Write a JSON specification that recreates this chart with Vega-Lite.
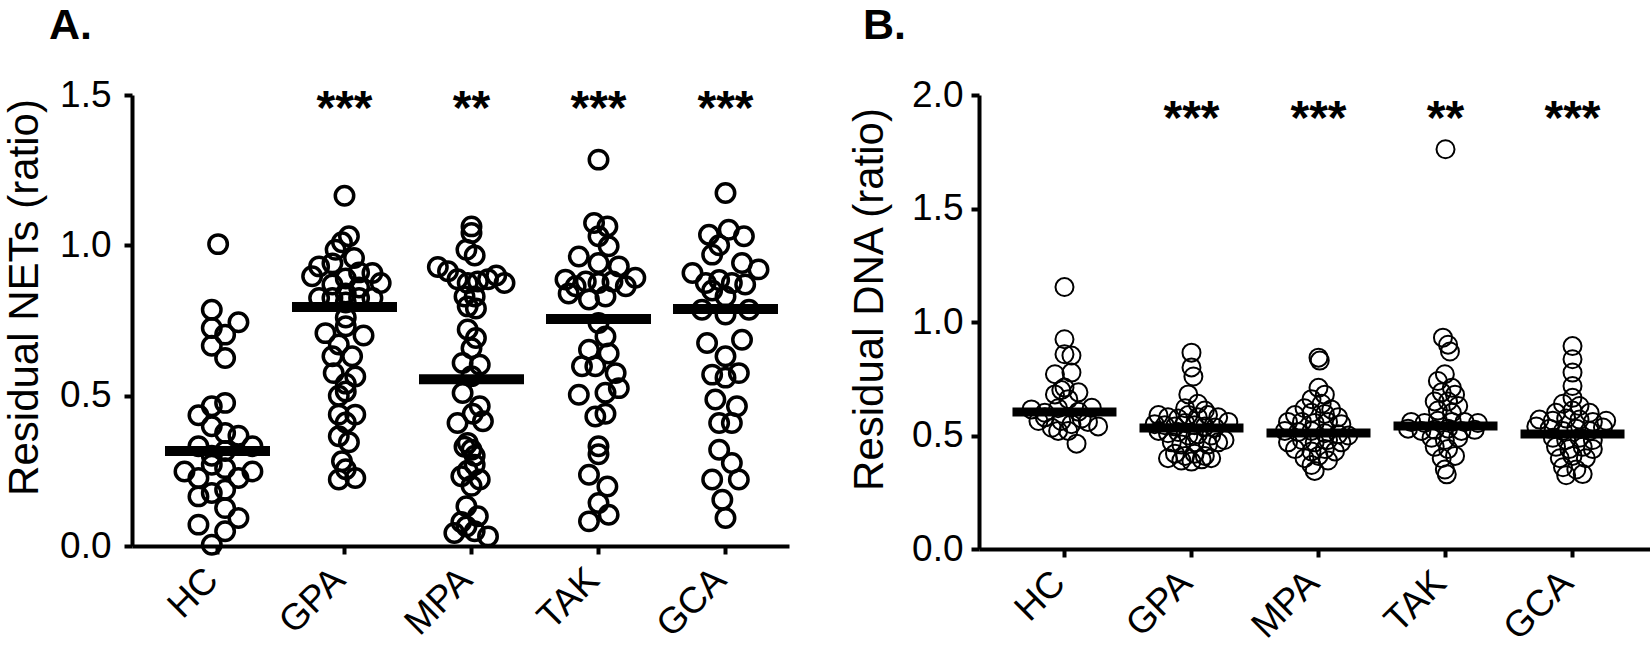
{
  "$schema": "https://vega.github.io/schema/vega-lite/v6.json",
  "background": "white",
  "padding": {"left": 2, "top": 5, "right": 0, "bottom": 0},
  "config": {
    "font": "Liberation Sans",
    "view": {"stroke": null},
    "axis": {
      "domainColor": "black", "domainWidth": 4, "tickColor": "black", "tickWidth": 4, "tickSize": 8,
      "labelFont": "Liberation Sans", "labelFontSize": 37, "labelColor": "black",
      "titleFont": "Liberation Sans", "titleFontSize": 42, "titleFontWeight": "normal", "titleColor": "black",
      "grid": false
    }
  },
  "spacing": 58,
  "datasets": {
    "nets": [
      {"g":"HC","v":1.004,"j":0.01},{"g":"HC","v":0.786,"j":-0.09},{"g":"HC","v":0.744,"j":0.33},{"g":"HC","v":0.725,"j":-0.09},{"g":"HC","v":0.703,"j":0.12},{"g":"HC","v":0.666,"j":-0.09},{"g":"HC","v":0.625,"j":0.12},{"g":"HC","v":0.476,"j":0.12},{"g":"HC","v":0.465,"j":-0.09},{"g":"HC","v":0.435,"j":-0.30},{"g":"HC","v":0.398,"j":-0.09},{"g":"HC","v":0.376,"j":0.12},{"g":"HC","v":0.367,"j":0.33},{"g":"HC","v":0.332,"j":-0.30},{"g":"HC","v":0.332,"j":0.55},{"g":"HC","v":0.300,"j":-0.09},{"g":"HC","v":0.316,"j":0.12},{"g":"HC","v":0.270,"j":-0.09},{"g":"HC","v":0.259,"j":0.12},{"g":"HC","v":0.248,"j":-0.52},{"g":"HC","v":0.248,"j":0.55},{"g":"HC","v":0.226,"j":-0.30},{"g":"HC","v":0.226,"j":0.33},{"g":"HC","v":0.187,"j":0.12},{"g":"HC","v":0.176,"j":-0.09},{"g":"HC","v":0.165,"j":-0.30},{"g":"HC","v":0.126,"j":0.12},{"g":"HC","v":0.093,"j":0.33},{"g":"HC","v":0.071,"j":-0.30},{"g":"HC","v":0.049,"j":0.12},{"g":"HC","v":0.004,"j":-0.09},
      {"g":"GPA","v":1.165,"j":0},{"g":"GPA","v":1.030,"j":0.07},{"g":"GPA","v":1.010,"j":-0.04},{"g":"GPA","v":0.985,"j":-0.14},{"g":"GPA","v":0.958,"j":0.15},{"g":"GPA","v":0.930,"j":-0.40},{"g":"GPA","v":0.940,"j":-0.19},{"g":"GPA","v":0.897,"j":-0.51},{"g":"GPA","v":0.908,"j":0.44},{"g":"GPA","v":0.910,"j":0.23},{"g":"GPA","v":0.875,"j":0.57},{"g":"GPA","v":0.890,"j":0.02},{"g":"GPA","v":0.870,"j":-0.19},{"g":"GPA","v":0.860,"j":0.23},{"g":"GPA","v":0.825,"j":-0.40},{"g":"GPA","v":0.825,"j":-0.19},{"g":"GPA","v":0.840,"j":0.02},{"g":"GPA","v":0.825,"j":0.23},{"g":"GPA","v":0.825,"j":0.44},{"g":"GPA","v":0.810,"j":0.02},{"g":"GPA","v":0.760,"j":0.02},{"g":"GPA","v":0.708,"j":-0.30},{"g":"GPA","v":0.731,"j":0.02},{"g":"GPA","v":0.700,"j":0.30},{"g":"GPA","v":0.670,"j":-0.09},{"g":"GPA","v":0.631,"j":0.12},{"g":"GPA","v":0.631,"j":-0.19},{"g":"GPA","v":0.575,"j":-0.17},{"g":"GPA","v":0.564,"j":0.17},{"g":"GPA","v":0.540,"j":0.02},{"g":"GPA","v":0.514,"j":0.02},{"g":"GPA","v":0.500,"j":-0.09},{"g":"GPA","v":0.437,"j":-0.09},{"g":"GPA","v":0.437,"j":0.17},{"g":"GPA","v":0.411,"j":0.02},{"g":"GPA","v":0.365,"j":-0.09},{"g":"GPA","v":0.345,"j":0.07},{"g":"GPA","v":0.282,"j":-0.04},{"g":"GPA","v":0.255,"j":0.02},{"g":"GPA","v":0.221,"j":-0.09},{"g":"GPA","v":0.226,"j":0.17},
      {"g":"MPA","v":1.063,"j":0},{"g":"MPA","v":1.041,"j":0},{"g":"MPA","v":0.966,"j":0.05},{"g":"MPA","v":0.985,"j":-0.08},{"g":"MPA","v":0.928,"j":-0.53},{"g":"MPA","v":0.914,"j":-0.37},{"g":"MPA","v":0.887,"j":-0.22},{"g":"MPA","v":0.875,"j":-0.06},{"g":"MPA","v":0.880,"j":0.10},{"g":"MPA","v":0.887,"j":0.26},{"g":"MPA","v":0.900,"j":0.39},{"g":"MPA","v":0.875,"j":0.52},{"g":"MPA","v":0.830,"j":-0.11},{"g":"MPA","v":0.830,"j":0.05},{"g":"MPA","v":0.797,"j":-0.06},{"g":"MPA","v":0.790,"j":0.07},{"g":"MPA","v":0.720,"j":-0.06},{"g":"MPA","v":0.692,"j":0.07},{"g":"MPA","v":0.658,"j":0},{"g":"MPA","v":0.609,"j":-0.14},{"g":"MPA","v":0.603,"j":0.13},{"g":"MPA","v":0.565,"j":0},{"g":"MPA","v":0.509,"j":-0.14},{"g":"MPA","v":0.465,"j":0.13},{"g":"MPA","v":0.440,"j":0.02},{"g":"MPA","v":0.409,"j":-0.22},{"g":"MPA","v":0.415,"j":0.18},{"g":"MPA","v":0.343,"j":-0.06},{"g":"MPA","v":0.330,"j":-0.11},{"g":"MPA","v":0.320,"j":0},{"g":"MPA","v":0.300,"j":0.05},{"g":"MPA","v":0.270,"j":0.05},{"g":"MPA","v":0.250,"j":-0.06},{"g":"MPA","v":0.232,"j":-0.16},{"g":"MPA","v":0.221,"j":0.13},{"g":"MPA","v":0.200,"j":0},{"g":"MPA","v":0.132,"j":-0.08},{"g":"MPA","v":0.099,"j":0.10},{"g":"MPA","v":0.080,"j":-0.16},{"g":"MPA","v":0.043,"j":-0.27},{"g":"MPA","v":0.049,"j":0.05},{"g":"MPA","v":0.032,"j":0.26},{"g":"MPA","v":0.065,"j":-0.08},
      {"g":"TAK","v":1.285,"j":0},{"g":"TAK","v":1.074,"j":-0.07},{"g":"TAK","v":1.063,"j":0.14},{"g":"TAK","v":1.030,"j":0},{"g":"TAK","v":0.997,"j":0.16},{"g":"TAK","v":0.963,"j":-0.31},{"g":"TAK","v":0.941,"j":0},{"g":"TAK","v":0.930,"j":0.32},{"g":"TAK","v":0.886,"j":-0.52},{"g":"TAK","v":0.892,"j":0.58},{"g":"TAK","v":0.864,"j":-0.36},{"g":"TAK","v":0.880,"j":-0.20},{"g":"TAK","v":0.875,"j":0},{"g":"TAK","v":0.880,"j":0.22},{"g":"TAK","v":0.864,"j":0.43},{"g":"TAK","v":0.830,"j":0.11},{"g":"TAK","v":0.840,"j":-0.47},{"g":"TAK","v":0.820,"j":-0.15},{"g":"TAK","v":0.742,"j":0},{"g":"TAK","v":0.697,"j":0.11},{"g":"TAK","v":0.653,"j":-0.15},{"g":"TAK","v":0.640,"j":0.16},{"g":"TAK","v":0.598,"j":-0.26},{"g":"TAK","v":0.598,"j":-0.05},{"g":"TAK","v":0.575,"j":0.27},{"g":"TAK","v":0.503,"j":-0.31},{"g":"TAK","v":0.510,"j":0.11},{"g":"TAK","v":0.525,"j":0.32},{"g":"TAK","v":0.431,"j":-0.05},{"g":"TAK","v":0.440,"j":0.11},{"g":"TAK","v":0.332,"j":0},{"g":"TAK","v":0.305,"j":0},{"g":"TAK","v":0.237,"j":-0.15},{"g":"TAK","v":0.198,"j":0.14},{"g":"TAK","v":0.143,"j":0},{"g":"TAK","v":0.082,"j":-0.15},{"g":"TAK","v":0.104,"j":0.16},
      {"g":"GCA","v":1.174,"j":0},{"g":"GCA","v":1.052,"j":0.05},{"g":"GCA","v":1.035,"j":-0.26},{"g":"GCA","v":1.030,"j":0.29},{"g":"GCA","v":1.000,"j":-0.10},{"g":"GCA","v":0.969,"j":-0.21},{"g":"GCA","v":0.941,"j":0.26},{"g":"GCA","v":0.908,"j":-0.52},{"g":"GCA","v":0.920,"j":0.52},{"g":"GCA","v":0.875,"j":-0.31},{"g":"GCA","v":0.885,"j":-0.10},{"g":"GCA","v":0.875,"j":0.10},{"g":"GCA","v":0.870,"j":0.31},{"g":"GCA","v":0.830,"j":0},{"g":"GCA","v":0.850,"j":-0.21},{"g":"GCA","v":0.786,"j":-0.37},{"g":"GCA","v":0.770,"j":0},{"g":"GCA","v":0.786,"j":0.37},{"g":"GCA","v":0.675,"j":-0.29},{"g":"GCA","v":0.686,"j":0.26},{"g":"GCA","v":0.631,"j":0},{"g":"GCA","v":0.570,"j":-0.21},{"g":"GCA","v":0.575,"j":0.21},{"g":"GCA","v":0.560,"j":0},{"g":"GCA","v":0.487,"j":-0.16},{"g":"GCA","v":0.465,"j":0.18},{"g":"GCA","v":0.409,"j":-0.10},{"g":"GCA","v":0.409,"j":0.10},{"g":"GCA","v":0.320,"j":-0.10},{"g":"GCA","v":0.276,"j":0.10},{"g":"GCA","v":0.221,"j":-0.21},{"g":"GCA","v":0.221,"j":0.21},{"g":"GCA","v":0.154,"j":-0.05},{"g":"GCA","v":0.093,"j":0}
    ],
    "netsMed": [{"g":"HC","v":0.316},{"g":"GPA","v":0.795},{"g":"MPA","v":0.555},{"g":"TAK","v":0.755},{"g":"GCA","v":0.788}],
    "netsStars": [{"g":"GPA","s":"***"},{"g":"MPA","s":"**"},{"g":"TAK","s":"***"},{"g":"GCA","s":"***"}],
    "dna": [
      {"g":"HC","v":1.154,"j":0},{"g":"HC","v":0.924,"j":0},{"g":"HC","v":0.858,"j":0},{"g":"HC","v":0.852,"j":0.11},{"g":"HC","v":0.770,"j":-0.15},{"g":"HC","v":0.777,"j":0.11},{"g":"HC","v":0.681,"j":-0.15},{"g":"HC","v":0.711,"j":0},{"g":"HC","v":0.690,"j":0.22},{"g":"HC","v":0.700,"j":-0.05},{"g":"HC","v":0.660,"j":0.06},{"g":"HC","v":0.615,"j":-0.52},{"g":"HC","v":0.622,"j":0.43},{"g":"HC","v":0.600,"j":-0.31},{"g":"HC","v":0.620,"j":-0.10},{"g":"HC","v":0.605,"j":0.22},{"g":"HC","v":0.564,"j":-0.41},{"g":"HC","v":0.534,"j":-0.20},{"g":"HC","v":0.564,"j":-0.05},{"g":"HC","v":0.550,"j":0.11},{"g":"HC","v":0.575,"j":0.27},{"g":"HC","v":0.540,"j":0.53},{"g":"HC","v":0.580,"j":-0.31},{"g":"HC","v":0.464,"j":0.19},{"g":"HC","v":0.520,"j":-0.10},{"g":"HC","v":0.520,"j":0.06},{"g":"HC","v":0.560,"j":0.37},
      {"g":"GPA","v":0.865,"j":0},{"g":"GPA","v":0.800,"j":0},{"g":"GPA","v":0.760,"j":0.03},{"g":"GPA","v":0.681,"j":-0.05},{"g":"GPA","v":0.640,"j":0.10},{"g":"GPA","v":0.620,"j":-0.10},{"g":"GPA","v":0.610,"j":0.21},{"g":"GPA","v":0.590,"j":-0.52},{"g":"GPA","v":0.580,"j":-0.37},{"g":"GPA","v":0.575,"j":-0.21},{"g":"GPA","v":0.590,"j":-0.05},{"g":"GPA","v":0.580,"j":0.10},{"g":"GPA","v":0.590,"j":0.26},{"g":"GPA","v":0.580,"j":0.42},{"g":"GPA","v":0.560,"j":0.58},{"g":"GPA","v":0.550,"j":-0.58},{"g":"GPA","v":0.545,"j":-0.42},{"g":"GPA","v":0.540,"j":-0.26},{"g":"GPA","v":0.555,"j":-0.10},{"g":"GPA","v":0.545,"j":0.05},{"g":"GPA","v":0.540,"j":0.21},{"g":"GPA","v":0.535,"j":0.37},{"g":"GPA","v":0.520,"j":-0.52},{"g":"GPA","v":0.510,"j":-0.37},{"g":"GPA","v":0.515,"j":-0.21},{"g":"GPA","v":0.500,"j":-0.05},{"g":"GPA","v":0.505,"j":0.10},{"g":"GPA","v":0.500,"j":0.31},{"g":"GPA","v":0.480,"j":0.52},{"g":"GPA","v":0.470,"j":-0.31},{"g":"GPA","v":0.460,"j":-0.16},{"g":"GPA","v":0.470,"j":0.05},{"g":"GPA","v":0.460,"j":0.26},{"g":"GPA","v":0.470,"j":0.42},{"g":"GPA","v":0.420,"j":-0.26},{"g":"GPA","v":0.410,"j":-0.10},{"g":"GPA","v":0.420,"j":0.05},{"g":"GPA","v":0.410,"j":0.21},{"g":"GPA","v":0.400,"j":-0.37},{"g":"GPA","v":0.390,"j":-0.16},{"g":"GPA","v":0.385,"j":0},{"g":"GPA","v":0.395,"j":0.16},{"g":"GPA","v":0.400,"j":0.31},
      {"g":"MPA","v":0.843,"j":0},{"g":"MPA","v":0.830,"j":0.02},{"g":"MPA","v":0.710,"j":0},{"g":"MPA","v":0.680,"j":0.10},{"g":"MPA","v":0.660,"j":-0.11},{"g":"MPA","v":0.640,"j":0.05},{"g":"MPA","v":0.620,"j":-0.22},{"g":"MPA","v":0.615,"j":0.20},{"g":"MPA","v":0.590,"j":-0.37},{"g":"MPA","v":0.600,"j":-0.11},{"g":"MPA","v":0.595,"j":0.10},{"g":"MPA","v":0.580,"j":0.31},{"g":"MPA","v":0.560,"j":-0.48},{"g":"MPA","v":0.560,"j":-0.26},{"g":"MPA","v":0.555,"j":-0.06},{"g":"MPA","v":0.560,"j":0.15},{"g":"MPA","v":0.550,"j":0.36},{"g":"MPA","v":0.520,"j":-0.53},{"g":"MPA","v":0.515,"j":-0.32},{"g":"MPA","v":0.520,"j":-0.11},{"g":"MPA","v":0.510,"j":0.10},{"g":"MPA","v":0.505,"j":0.31},{"g":"MPA","v":0.500,"j":0.47},{"g":"MPA","v":0.470,"j":-0.48},{"g":"MPA","v":0.480,"j":-0.26},{"g":"MPA","v":0.470,"j":-0.06},{"g":"MPA","v":0.480,"j":0.15},{"g":"MPA","v":0.470,"j":0.36},{"g":"MPA","v":0.440,"j":-0.37},{"g":"MPA","v":0.430,"j":-0.11},{"g":"MPA","v":0.440,"j":0.10},{"g":"MPA","v":0.430,"j":0.26},{"g":"MPA","v":0.400,"j":-0.22},{"g":"MPA","v":0.410,"j":0},{"g":"MPA","v":0.390,"j":0.15},{"g":"MPA","v":0.370,"j":-0.11},{"g":"MPA","v":0.344,"j":-0.06},
      {"g":"TAK","v":1.761,"j":0},{"g":"TAK","v":0.931,"j":-0.04},{"g":"TAK","v":0.900,"j":0.04},{"g":"TAK","v":0.870,"j":0.07},{"g":"TAK","v":0.770,"j":-0.01},{"g":"TAK","v":0.740,"j":-0.12},{"g":"TAK","v":0.710,"j":0.10},{"g":"TAK","v":0.690,"j":-0.06},{"g":"TAK","v":0.680,"j":0.15},{"g":"TAK","v":0.650,"j":-0.17},{"g":"TAK","v":0.650,"j":0.04},{"g":"TAK","v":0.630,"j":0.20},{"g":"TAK","v":0.610,"j":-0.12},{"g":"TAK","v":0.600,"j":0.10},{"g":"TAK","v":0.560,"j":-0.54},{"g":"TAK","v":0.555,"j":-0.33},{"g":"TAK","v":0.565,"j":-0.12},{"g":"TAK","v":0.560,"j":0.10},{"g":"TAK","v":0.560,"j":0.30},{"g":"TAK","v":0.555,"j":0.51},{"g":"TAK","v":0.530,"j":-0.59},{"g":"TAK","v":0.520,"j":-0.38},{"g":"TAK","v":0.525,"j":-0.17},{"g":"TAK","v":0.530,"j":0.04},{"g":"TAK","v":0.520,"j":0.25},{"g":"TAK","v":0.525,"j":0.46},{"g":"TAK","v":0.490,"j":-0.22},{"g":"TAK","v":0.480,"j":-0.01},{"g":"TAK","v":0.490,"j":0.20},{"g":"TAK","v":0.450,"j":-0.17},{"g":"TAK","v":0.440,"j":0.04},{"g":"TAK","v":0.410,"j":0.15},{"g":"TAK","v":0.400,"j":-0.06},{"g":"TAK","v":0.350,"j":-0.01},{"g":"TAK","v":0.329,"j":0.02},
      {"g":"GCA","v":0.894,"j":0},{"g":"GCA","v":0.836,"j":0},{"g":"GCA","v":0.777,"j":0},{"g":"GCA","v":0.718,"j":0},{"g":"GCA","v":0.666,"j":0},{"g":"GCA","v":0.640,"j":-0.15},{"g":"GCA","v":0.630,"j":0.11},{"g":"GCA","v":0.600,"j":-0.26},{"g":"GCA","v":0.610,"j":0},{"g":"GCA","v":0.600,"j":0.27},{"g":"GCA","v":0.570,"j":-0.52},{"g":"GCA","v":0.565,"j":-0.31},{"g":"GCA","v":0.575,"j":-0.10},{"g":"GCA","v":0.570,"j":0.11},{"g":"GCA","v":0.560,"j":0.32},{"g":"GCA","v":0.565,"j":0.53},{"g":"GCA","v":0.540,"j":-0.57},{"g":"GCA","v":0.530,"j":-0.36},{"g":"GCA","v":0.520,"j":-0.15},{"g":"GCA","v":0.530,"j":0.06},{"g":"GCA","v":0.520,"j":0.27},{"g":"GCA","v":0.535,"j":0.48},{"g":"GCA","v":0.490,"j":-0.31},{"g":"GCA","v":0.480,"j":-0.10},{"g":"GCA","v":0.490,"j":0.11},{"g":"GCA","v":0.480,"j":0.32},{"g":"GCA","v":0.450,"j":-0.26},{"g":"GCA","v":0.440,"j":-0.05},{"g":"GCA","v":0.450,"j":0.16},{"g":"GCA","v":0.440,"j":0.32},{"g":"GCA","v":0.400,"j":-0.20},{"g":"GCA","v":0.410,"j":0},{"g":"GCA","v":0.400,"j":0.21},{"g":"GCA","v":0.360,"j":-0.15},{"g":"GCA","v":0.350,"j":0.06},{"g":"GCA","v":0.330,"j":0.16},{"g":"GCA","v":0.325,"j":-0.10}
    ],
    "dnaMed": [{"g":"HC","v":0.604},{"g":"GPA","v":0.533},{"g":"MPA","v":0.511},{"g":"TAK","v":0.542},{"g":"GCA","v":0.507}],
    "dnaStars": [{"g":"GPA","s":"***"},{"g":"MPA","s":"***"},{"g":"TAK","s":"**"},{"g":"GCA","s":"***"}]
  },
  "hconcat": [
    {
      "width": 657, "height": 451,
      "title": {"text": "A.", "anchor": "start", "frame": "bounds", "dx": 46, "offset": 28, "font": "Liberation Sans", "fontSize": 43, "fontWeight": "bold", "color": "black"},
      "encoding": {
        "x": {"field": "g", "type": "nominal", "sort": ["HC","GPA","MPA","TAK","GCA"],
              "scale": {"paddingInner": 0, "paddingOuter": 0.0866, "align": 1},
              "axis": {"title": null, "labelAngle": -45, "labelAlign": "right", "labelBaseline": "middle", "labelPadding": 20, "labelOffset": -5}}
      },
      "layer": [
        {
          "data": {"name": "nets"},
          "mark": {"type": "point", "shape": "circle", "filled": false, "stroke": "black", "strokeWidth": 3.5, "size": 340, "opacity": 1},
          "encoding": {
            "xOffset": {"field": "j", "type": "quantitative", "scale": {"domain": [-1, 1]}},
            "y": {"field": "v", "type": "quantitative", "scale": {"domain": [0, 1.5], "nice": false},
                  "axis": {"title": "Residual NETs (ratio)", "values": [0, 0.5, 1, 1.5], "format": ".1f", "labelPadding": 13,
                           "titleX": -95, "titleY": 202, "titleBaseline": "alphabetic", "titleAlign": "center"}}
          }
        },
        {
          "data": {"name": "netsMed"},
          "mark": {"type": "tick", "color": "black", "thickness": 10, "size": 105, "opacity": 1},
          "encoding": {"y": {"field": "v", "type": "quantitative"}}
        },
        {
          "data": {"name": "netsStars"},
          "mark": {"type": "text", "fontSize": 48, "fontWeight": "bold", "align": "center", "baseline": "alphabetic", "color": "black"},
          "encoding": {"y": {"datum": 1.405, "type": "quantitative"}, "text": {"field": "s"}}
        }
      ]
    },
    {
      "width": 679, "height": 454,
      "title": {"text": "B.", "anchor": "start", "frame": "bounds", "dx": 15, "offset": 28, "font": "Liberation Sans", "fontSize": 43, "fontWeight": "bold", "color": "black"},
      "encoding": {
        "x": {"field": "g", "type": "nominal", "sort": ["HC","GPA","MPA","TAK","GCA"],
              "scale": {"paddingInner": 0, "paddingOuter": 0.173, "align": 0.5},
              "axis": {"title": null, "labelAngle": -45, "labelAlign": "right", "labelBaseline": "middle", "labelPadding": 20, "labelOffset": -5}}
      },
      "layer": [
        {
          "data": {"name": "dna"},
          "mark": {"type": "point", "shape": "circle", "filled": false, "stroke": "black", "strokeWidth": 2, "size": 324, "opacity": 1},
          "encoding": {
            "xOffset": {"field": "j", "type": "quantitative", "scale": {"domain": [-1, 1]}},
            "y": {"field": "v", "type": "quantitative", "scale": {"domain": [0, 2], "nice": false},
                  "axis": {"title": "Residual DNA (ratio)", "values": [0, 0.5, 1, 1.5, 2], "format": ".1f", "labelPadding": 8,
                           "titleX": -97, "titleY": 204, "titleBaseline": "alphabetic", "titleAlign": "center"}}
          }
        },
        {
          "data": {"name": "dnaMed"},
          "mark": {"type": "tick", "color": "black", "thickness": 9, "size": 104, "opacity": 1},
          "encoding": {"y": {"field": "v", "type": "quantitative"}}
        },
        {
          "data": {"name": "dnaStars"},
          "mark": {"type": "text", "fontSize": 48, "fontWeight": "bold", "align": "center", "baseline": "alphabetic", "color": "black"},
          "encoding": {"y": {"datum": 1.83, "type": "quantitative"}, "text": {"field": "s"}}
        }
      ]
    }
  ]
}
